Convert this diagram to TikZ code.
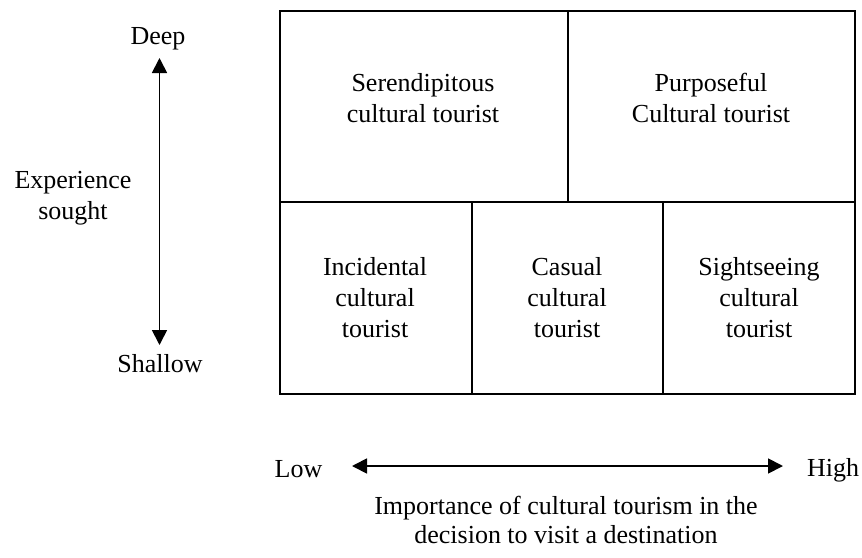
\documentclass[tikz,border=0pt]{standalone}
\usepackage{fontspec}
\setmainfont{Liberation Serif}
\usetikzlibrary{arrows.meta}
\begin{document}
\begin{tikzpicture}[x=1pt,y=-1pt,
  cell/.style={draw, line width=2pt, inner sep=0pt, outer sep=0pt, anchor=north west},
  lbl/.style={align=center, font=\fontsize{26}{31}\selectfont, inner sep=0pt},
  axis/.style={line width=1.8pt, {Triangle[length=15pt,width=15pt]}-{Triangle[length=15pt,width=15pt]}}]
\useasboundingbox (0,0) rectangle (862,557);

% grid of tourist types
\node[cell, minimum width=288pt, minimum height=191.5pt] (ser) at (279.5,10.5) {};
\node[cell, minimum width=287.5pt, minimum height=191.5pt] (pur) at (567.5,10.5) {};
\node[cell, minimum width=192pt, minimum height=191.5pt] (inc) at (279.5,202) {};
\node[cell, minimum width=191.5pt, minimum height=191.5pt] (cas) at (471.5,202) {};
\node[cell, minimum width=192pt, minimum height=191.5pt] (sig) at (663,202) {};

\node[lbl] (serT) at (423,98) {Serendipitous\\cultural tourist};
\node[lbl] (purT) at (711,98) {Purposeful\\Cultural tourist};
\node[lbl] (incT) at (375,297.5) {Incidental\\cultural\\tourist};
\node[lbl] (casT) at (567,297.5) {Casual\\cultural\\tourist};
\node[lbl] (sigT) at (759,297.5) {Sightseeing\\cultural\\tourist};

% vertical axis
\node[lbl, anchor=base] (deep) at (158,44) {Deep};
\node[lbl, anchor=base] (shallow) at (160,372) {Shallow};
\node[lbl] (exp) at (73,198) {Experience\\sought};
\coordinate (vtop) at (159.5,58);
\coordinate (vbot) at (159.5,345);
\draw[axis] (vtop) -- (vbot);

% horizontal axis
\node[lbl, anchor=base] (low) at (298.5,477) {Low};
\node[lbl, anchor=base] (high) at (833,476) {High};
\coordinate (hleft) at (352,466);
\coordinate (hright) at (783,466);
\draw[axis] (hleft) -- (hright);
\node[lbl, font=\fontsize{26}{29}\selectfont] (imp) at (566,520) {Importance of cultural tourism in the\\decision to visit a destination};
\end{tikzpicture}
\end{document}
